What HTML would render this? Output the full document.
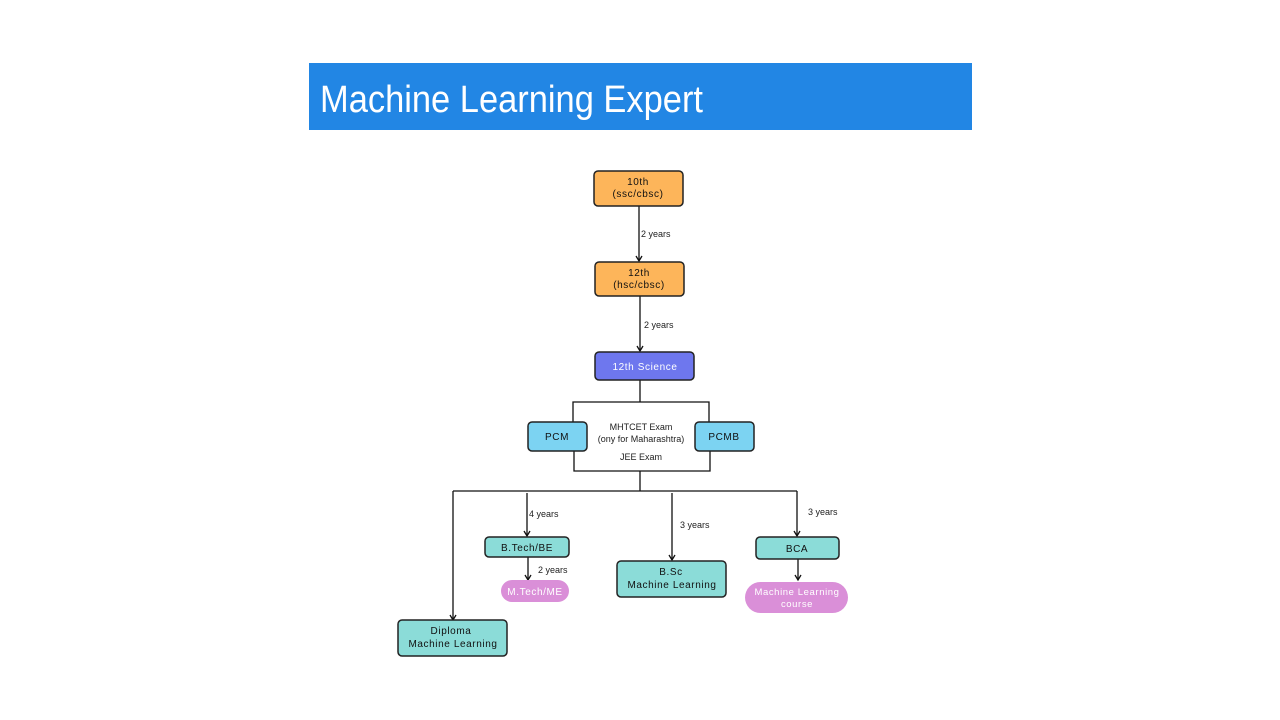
<!DOCTYPE html>
<html><head><meta charset="utf-8"><style>
html,body{margin:0;padding:0;background:#fff;width:1280px;height:720px;overflow:hidden}
svg{display:block}
text{font-family:"Liberation Sans",sans-serif}
</style></head><body>
<svg width="1280" height="720" viewBox="0 0 1280 720">
<defs><marker id="a" markerWidth="8" markerHeight="8" refX="6" refY="4" orient="auto" markerUnits="userSpaceOnUse"><path d="M1,1 L6,4 L1,7" fill="none" stroke="#111" stroke-width="1.3"/></marker></defs>
<rect x="309" y="63" width="663" height="67" fill="#2286E4"/>
<text x="320" y="112" font-size="38" fill="#fff" textLength="383" lengthAdjust="spacingAndGlyphs">Machine Learning Expert</text>
<g stroke="#111" stroke-width="1.3" fill="none">
<line x1="639" y1="206" x2="639" y2="261" marker-end="url(#a)"/>
<line x1="640" y1="296" x2="640" y2="351" marker-end="url(#a)"/>
<line x1="640" y1="380" x2="640" y2="402"/>
<polyline points="573,422 573,402 709,402 709,422"/>
<polyline points="574,451 574,471 710,471 710,451"/>
<line x1="640" y1="471" x2="640" y2="491"/>
<line x1="453" y1="491" x2="797" y2="491"/>
<line x1="453" y1="491" x2="453" y2="620" marker-end="url(#a)"/>
<line x1="527" y1="493" x2="527" y2="536" marker-end="url(#a)"/>
<line x1="672" y1="493" x2="672" y2="560" marker-end="url(#a)"/>
<line x1="797" y1="491" x2="797" y2="536" marker-end="url(#a)"/>
<line x1="528" y1="557" x2="528" y2="580" marker-end="url(#a)"/>
<line x1="798" y1="559" x2="798" y2="580" marker-end="url(#a)"/>
</g>
<g stroke="#222" stroke-width="1.5">
<rect x="594" y="171" width="89" height="35" rx="4" fill="#FDB55A"/>
<rect x="595" y="262" width="89" height="34" rx="4" fill="#FDB55A"/>
<rect x="595" y="352" width="99" height="28" rx="4" fill="#6E77EE"/>
<rect x="528" y="422" width="59" height="29" rx="4" fill="#7CD3F2"/>
<rect x="695" y="422" width="59" height="29" rx="4" fill="#7CD3F2"/>
<rect x="485" y="537" width="84" height="20" rx="4" fill="#8BDCD8"/>
<rect x="617" y="561" width="109" height="36" rx="4" fill="#8BDCD8"/>
<rect x="756" y="537" width="83" height="22" rx="4" fill="#8BDCD8"/>
<rect x="398" y="620" width="109" height="36" rx="4" fill="#8BDCD8"/>
</g>
<rect x="501" y="580" width="68" height="22" rx="11" fill="#DA8FD8"/>
<rect x="745" y="582" width="103" height="31" rx="15.5" fill="#DA8FD8"/>
<g font-size="10" text-anchor="middle" fill="#111" letter-spacing="0.6">
<text x="638" y="185">10th</text><text x="638" y="197">(ssc/cbsc)</text>
<text x="639" y="276">12th</text><text x="639" y="288">(hsc/cbsc)</text>
<text x="645" y="370" fill="#fff">12th Science</text>
<text x="557" y="440">PCM</text><text x="724" y="440">PCMB</text>
<text x="527" y="551">B.Tech/BE</text>
<text x="671" y="575">B.Sc</text><text x="672" y="588">Machine Learning</text>
<text x="797" y="552">BCA</text>
<text x="451" y="634">Diploma</text><text x="453" y="647">Machine Learning</text>
<text x="535" y="595" fill="#fff">M.Tech/ME</text>
<text x="797" y="595" fill="#fff" font-size="9.5">Machine Learning</text><text x="797" y="607" fill="#fff" font-size="9.5">course</text>
</g>
<g font-size="9" fill="#222">
<text x="641" y="237">2 years</text>
<text x="644" y="328">2 years</text>
<text x="529" y="517">4 years</text>
<text x="680" y="528">3 years</text>
<text x="808" y="515">3 years</text>
<text x="538" y="573">2 years</text>
<text x="641" y="430" text-anchor="middle">MHTCET Exam</text>
<text x="641" y="442" text-anchor="middle">(ony for Maharashtra)</text>
<text x="641" y="460" text-anchor="middle">JEE Exam</text>
</g>
</svg>
</body></html>
